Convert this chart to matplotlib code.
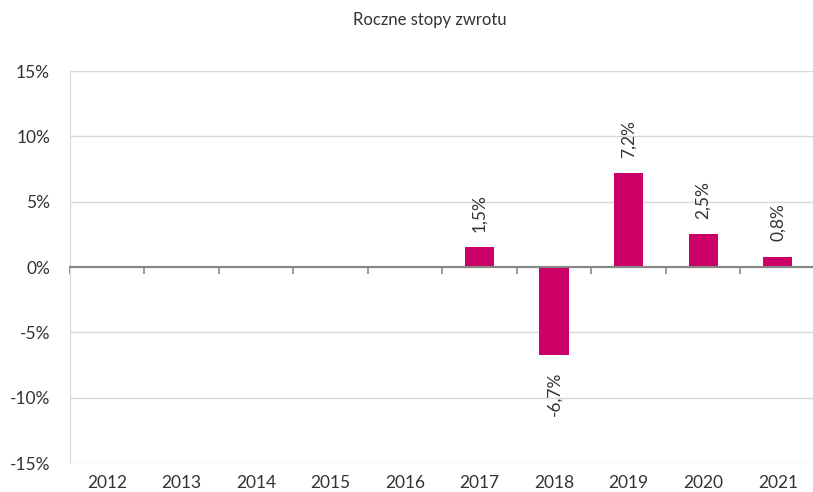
import matplotlib
matplotlib.use("Agg")
import matplotlib.pyplot as plt
from matplotlib.transforms import offset_copy
import numpy as np

years = ["2012", "2013", "2014", "2015", "2016", "2017", "2018", "2019", "2020", "2021"]
returns = [None, None, None, None, None, 1.5, -6.7, 7.2, 2.5, 0.8]
y_ticks = [-15, -10, -5, 0, 5, 10, 15]
title = "Roczne stopy zwrotu"

plt.rcParams['font.family'] = ['Lato', 'DejaVu Sans']
plt.rcParams['font.weight'] = 'normal'

TXT = "#333333"
fig = plt.figure(figsize=(8.13, 4.92), dpi=100)
ax = fig.add_axes([69.5 / 813, 1 - 463 / 492, 745.5 / 813, 392 / 492])

bar_color = "#CC0066"
x = np.arange(len(years))
vals = [v if v is not None else 0 for v in returns]
mask = [v is not None for v in returns]
bars = ax.bar(x[mask], np.array(vals)[mask], width=0.393, color=bar_color, zorder=3)

ax.set_xlim(-0.5, len(years) - 0.5)
ax.set_ylim(-15, 15)
ax.set_yticks(y_ticks)
ax.set_yticklabels([f"{t}%" for t in y_ticks], fontsize=12.5, color=TXT)
ax.tick_params(axis='y', length=0, pad=14)
ax.grid(axis='y', color="#d9d9d9", linewidth=1, zorder=0)

for s in ['top', 'right']:
    ax.spines[s].set_visible(False)
ax.spines['left'].set_color("#d9d9d9")
ax.spines['bottom'].set_position(('data', 0))
ax.spines['bottom'].set_color("#868686")
ax.spines['bottom'].set_linewidth(1.5)
ax.spines['bottom'].set_zorder(4)
ax.set_xticks(np.arange(len(years) + 1) - 0.5)
ax.set_xticklabels([])
ax.tick_params(axis='x', direction='out', length=5, width=1.2, color="#868686")

sec = ax.secondary_xaxis(location=0.0)
sec.set_xticks(x)
sec.set_xticklabels(years, fontsize=12.5, color=TXT)
sec.tick_params(length=0, pad=9)
sec.spines['bottom'].set_visible(False)

for xi, v in zip(x, returns):
    if v is None:
        continue
    lbl = f"{v:.1f}%".replace(".", ",")
    if v >= 0:
        tr = offset_copy(ax.transData, fig=fig, x=0, y=11, units='points')
        ax.text(xi, v, lbl, rotation=90, ha='center', va='bottom', transform=tr,
                fontsize=12.5, color=TXT)
    else:
        tr = offset_copy(ax.transData, fig=fig, x=0, y=-12, units='points')
        ax.text(xi, v, lbl, rotation=90, ha='center', va='top', transform=tr,
                fontsize=12.5, color=TXT)

fig.text(430 / 813, 1 - 20 / 492, title, ha='center', va='center', fontsize=12, color=TXT)

fig.savefig("out.png", dpi=100)
